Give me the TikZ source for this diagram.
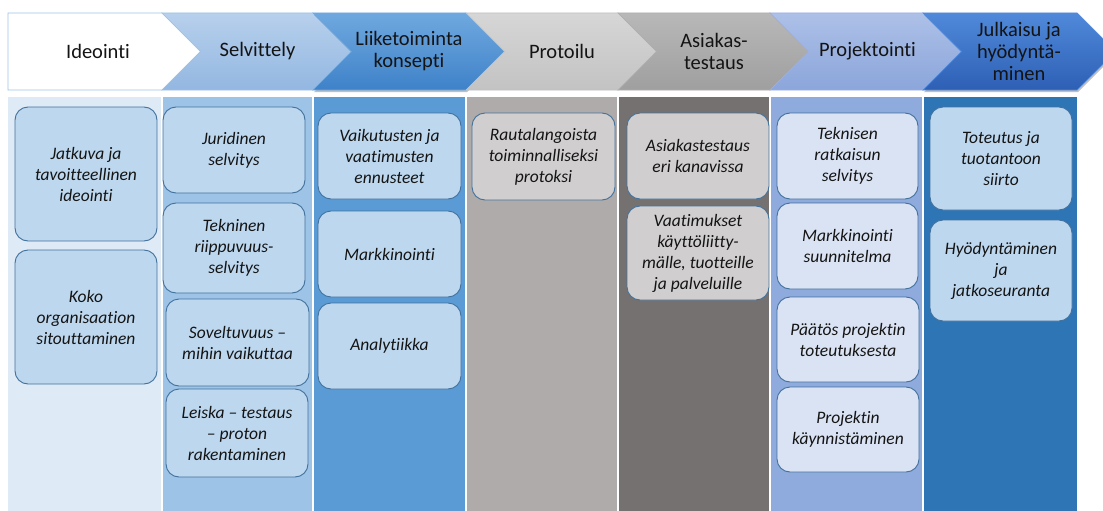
\documentclass[tikz,border=0pt]{standalone}
\usepackage{fontspec}
\setmainfont{Carlito}[ItalicFont={Carlito Italic}, Ligatures=NoCommon]
\usetikzlibrary{shadows}

% lane colours
\definecolor{laneA}{HTML}{DEEBF7}
\definecolor{laneB}{HTML}{9DC3E6}
\definecolor{laneC}{HTML}{5B9BD5}
\definecolor{laneD}{HTML}{AFABAB}
\definecolor{laneE}{HTML}{767171}
\definecolor{laneF}{HTML}{8FAADC}
\definecolor{laneG}{HTML}{2E75B6}
% card colours
\definecolor{cardblue}{HTML}{BDD7EE}
\definecolor{cardgray}{HTML}{D0CECE}
\definecolor{cardpale}{HTML}{DAE3F3}
\definecolor{cardedge}{HTML}{41719C}
% chevron colours
\definecolor{chevedge}{HTML}{9DC3E6}
\definecolor{selvTop}{HTML}{B7D0EC}
\definecolor{selvBot}{HTML}{93B7E1}
\definecolor{liikTop}{HTML}{6FA8DF}
\definecolor{liikBot}{HTML}{3F82C9}
\definecolor{protTop}{HTML}{D6D6D6}
\definecolor{protBot}{HTML}{C3C3C3}
\definecolor{asiaTop}{HTML}{B8B8B8}
\definecolor{asiaBot}{HTML}{9F9F9F}
\definecolor{projTop}{HTML}{ADC0E7}
\definecolor{projBot}{HTML}{8BA6DB}
\definecolor{julkTop}{HTML}{5089DA}
\definecolor{julkBot}{HTML}{2D60B5}

\newcommand\cardtext{\fontsize{17.5}{21}\selectfont\itshape}
\newcommand\headtext{\fontsize{20.5}{22}\selectfont}

\tikzset{
  lane/.style={draw=none},
  card/.style={draw=cardedge, line width=0.9pt, rounded corners=13pt,
               align=center, font=\cardtext, text=black!92, inner sep=0pt},
  bluecard/.style={card, fill=cardblue},
  graycard/.style={card, fill=cardgray},
  palecard/.style={card, fill=cardpale},
  chev/.style={line width=0.7pt, line join=miter},
  chevshadow/.style={drop shadow={shadow xshift=1pt, shadow yshift=-2pt,
                     opacity=0.35, fill=black!70}},
  headlabel/.style={font=\headtext, align=center, text=black!92, inner sep=0pt},
}

\begin{document}
\begin{tikzpicture}[x=1pt, y=-1pt]
\useasboundingbox[fill=white] (0,0) rectangle (1103,511);

% ---- lanes ----
\fill[laneA] (8,97)   rectangle (161,511);
\fill[laneB] (163,97) rectangle (312,511);
\fill[laneC] (314,97) rectangle (465,511);
\fill[laneD] (467,97) rectangle (617,511);
\fill[laneE] (619,97) rectangle (769,511);
\fill[laneF] (771,97) rectangle (922,511);
\fill[laneG] (924,97) rectangle (1077,511);

% ---- cards: Ideointi ----
\node[bluecard, minimum width=142pt, minimum height=134pt] (jatkuva) at (86,174)
  {Jatkuva ja\\tavoitteellinen\\ideointi};
\node[bluecard, minimum width=142pt, minimum height=134pt] (koko) at (86,317)
  {Koko\\organisaation\\sitouttaminen};

% ---- cards: Selvittely ----
\node[bluecard, minimum width=142pt, minimum height=86pt] (juridinen) at (234,150)
  {Juridinen\\selvitys};
\node[bluecard, minimum width=142pt, minimum height=90pt] (tekninen) at (234,248)
  {Tekninen\\riippuvuus-\\selvitys};
\node[bluecard, minimum width=143pt, minimum height=87pt] (soveltuvuus) at (237.5,342.5)
  {Soveltuvuus –\\mihin vaikuttaa};
\node[bluecard, minimum width=142pt, minimum height=88pt] (leiska) at (237,433)
  {Leiska – testaus\\– proton\\rakentaminen};

% ---- cards: Liiketoimintakonsepti ----
\node[bluecard, minimum width=143pt, minimum height=86pt] (vaikutukset) at (389.5,156)
  {Vaikutusten ja\\vaatimusten\\ennusteet};
\node[bluecard, minimum width=143pt, minimum height=86pt] (markkinointi) at (389.5,254)
  {Markkinointi};
\node[bluecard, minimum width=143pt, minimum height=86pt] (analytiikka) at (389.5,346)
  {Analytiikka};

% ---- cards: Protoilu ----
\node[graycard, minimum width=143pt, minimum height=87pt] (rautalanka) at (543.5,156.5)
  {Rautalangoista\\toiminnalliseksi\\protoksi};

% ---- cards: Asiakastestaus ----
\node[graycard, minimum width=142pt, minimum height=86pt] (asiakastestaus) at (698,156)
  {Asiakastestaus\\eri kanavissa};
\node[graycard, minimum width=142pt, minimum height=94pt] (vaatimukset) at (698,253)
  {Vaatimukset\\käyttöliitty-\\mälle, tuotteille\\ja palveluille};

% ---- cards: Projektointi ----
\node[palecard, minimum width=141pt, minimum height=86pt] (teknisen) at (847.5,156)
  {Teknisen\\ratkaisun\\selvitys};
\node[palecard, minimum width=141pt, minimum height=86pt] (suunnitelma) at (847.5,246)
  {Markkinointi\\suunnitelma};
\node[palecard, minimum width=142pt, minimum height=85pt] (paatos) at (848,339.5)
  {Päätös projektin\\toteutuksesta};
\node[palecard, minimum width=142pt, minimum height=85pt] (kaynnistys) at (848,429.5)
  {Projektin\\käynnistäminen};

% ---- cards: Julkaisu ----
\node[bluecard, minimum width=142pt, minimum height=103pt] (toteutus) at (1001,158.5)
  {Toteutus ja\\tuotantoon\\siirto};
\node[bluecard, minimum width=142pt, minimum height=101pt] (hyodyntaminen) at (1001,270.5)
  {Hyödyntäminen\\ja\\jatkoseuranta};

% ---- process chevrons ----
\path[chev, fill=white, draw=chevedge]
  (8,13) -- (162,13) -- (200.5,51.5) -- (162,90) -- (8,90) -- cycle;
\path[chev, top color=selvTop, bottom color=selvBot, draw=chevedge]
  (162,13) -- (313,13) -- (351.5,51.5) -- (313,90) -- (162,90) -- (200.5,51.5) -- cycle;
\path[chev, chevshadow, top color=liikTop, bottom color=liikBot, draw=liikTop]
  (313,13) -- (466,13) -- (504.5,51.5) -- (466,90) -- (313,90) -- (351.5,51.5) -- cycle;
\path[chev, top color=protTop, bottom color=protBot, draw=protTop!90!black]
  (466,13) -- (618,13) -- (656.5,51.5) -- (618,90) -- (466,90) -- (504.5,51.5) -- cycle;
\path[chev, top color=asiaTop, bottom color=asiaBot, draw=asiaTop!95!black]
  (618,13) -- (770,13) -- (808.5,51.5) -- (770,90) -- (618,90) -- (656.5,51.5) -- cycle;
\path[chev, top color=projTop, bottom color=projBot, draw=projTop!90!blue]
  (770,13) -- (923,13) -- (961.5,51.5) -- (923,90) -- (770,90) -- (808.5,51.5) -- cycle;
\path[chev, chevshadow, top color=julkTop, bottom color=julkBot, draw=julkTop]
  (923,13) -- (1077,13) -- (1115.5,51.5) -- (1077,90) -- (923,90) -- (961.5,51.5) -- cycle;

% ---- chevron labels ----
\node[headlabel] (ideointi)     at (98,51.5)   {Ideointi};
\node[headlabel] (selvittely)   at (257.5,51.5) {Selvittely};
\node[headlabel] (liiketoiminta) at (409,51.5) {Liiketoiminta\\konsepti};
\node[headlabel] (protoilu)     at (562,51.5)  {Protoilu};
\node[headlabel] (asiakas)      at (714,51.5)  {Asiakas-\\testaus};
\node[headlabel] (projektointi) at (867.5,51.5) {Projektointi};
\node[headlabel] (julkaisu)     at (1019,51.5) {Julkaisu ja\\hyödyntä-\\minen};
\end{tikzpicture}
\end{document}
